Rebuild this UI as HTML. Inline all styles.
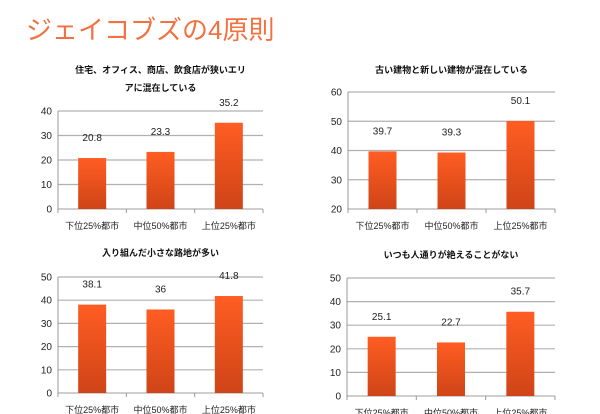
<!DOCTYPE html>
<html><head><meta charset="utf-8"><style>
body{margin:0;width:600px;height:414px;background:#fff;overflow:hidden;font-family:"Liberation Sans","Noto Sans CJK JP",sans-serif}
#t{position:absolute;left:26px;top:10px;font-size:26px;color:#f3703f;white-space:nowrap;letter-spacing:0px}
svg{position:absolute;left:0;top:0}
</style></head><body>
<div id="t">ジェイコブズの4原則</div>
<svg id="s" width="600" height="414">
<defs><linearGradient id="g" x1="0" y1="0" x2="0" y2="1"><stop offset="0" stop-color="#ff5d22"/><stop offset="1" stop-color="#cf4417"/></linearGradient></defs>
</svg>
<script>
const categories=["下位25%都市","中位50%都市","上位25%都市"];
const values1=[20.8,23.3,35.2];
const values2=[39.7,39.3,50.1];
const values3=[38.1,36,41.8];
const values4=[25.1,22.7,35.7];
const ticks1=[0,10,20,30,40];
const ticks2=[20,30,40,50,60];
const ticks3=[0,10,20,30,40,50];
const ticks4=[0,10,20,30,40,50];
const titles=[["住宅、オフィス、商店、飲食店が狭いエリ","アに混在している"],["古い建物と新しい建物が混在している"],["入り組んだ小さな路地が多い"],["いつも人通りが絶えることがない"]];
const labels1=["20.8","23.3","35.2"],labels2=["39.7","39.3","50.1"],labels3=["38.1","36","41.8"],labels4=["25.1","22.7","35.7"];
const NS="http://www.w3.org/2000/svg",S=document.getElementById('s');
function mk(t,a,txt){const e=document.createElementNS(NS,t);for(const k in a)e.setAttribute(k,a[k]);if(txt!=null)e.textContent=txt;S.appendChild(e);return e;}
function chart(idx,L,R,top,bot,ticks,vals,labs,titleY){
 const min=ticks[0],max=ticks[ticks.length-1];
 const y=v=>bot-(v-min)/(max-min)*(bot-top);
 const bw=(R-L)/categories.length;
 const x=i=>L+bw*(i+0.5);
 const cx=(L+R)/2;
 titles[idx].forEach((t,j)=>{const e=mk('text',{x:cx,y:titleY+j*18,'text-anchor':'middle','font-size':9,'font-weight':'bold',fill:'#111'},t);
  
  });
 ticks.forEach(t=>{
  const l=mk('line',{x1:L,x2:R,y1:y(t),y2:y(t),stroke:'#b0b0b0','stroke-width':1.2});
  
  
  const e=mk('text',{x:L-6,y:y(t)+3.5,'text-anchor':'end','font-size':10,fill:'#222'},String(t));
  
  });
 mk('line',{x1:L,x2:L,y1:top,y2:bot,stroke:'#999'});
 for(let i=0;i<=categories.length;i++)mk('line',{x1:L+bw*i,x2:L+bw*i,y1:bot,y2:bot+4,stroke:'#999'});
 vals.forEach((v,i)=>{
  const r=mk('rect',{x:x(i)-14,y:y(v),width:28,height:bot-y(v),fill:'url(#g)'});
  
  
  const e=mk('text',{x:x(i),y:y(v)-17,'text-anchor':'middle','font-size':10,fill:'#222'},labs[i]);
  
  
  const c=mk('text',{x:x(i),y:bot+20,'text-anchor':'middle','font-size':9,fill:'#222'},categories[i]);
  
  });
}
chart(0,58,263,111,209,ticks1,values1,labels1,73);
chart(1,348,555,92,209,ticks2,values2,labels2,73);
chart(2,58,263,277,393,ticks3,values3,labels3,256);
chart(3,347,555,278,396,ticks4,values4,labels4,258);
</script>
</body></html>
